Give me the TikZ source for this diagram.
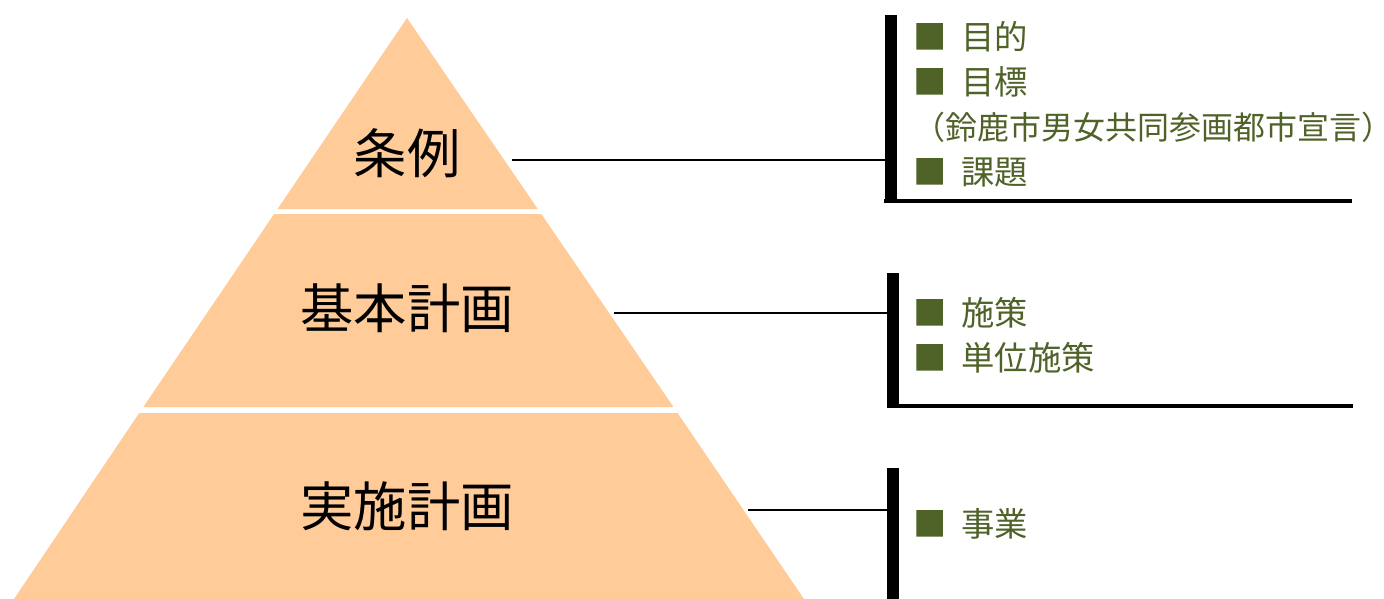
\documentclass[tikz,border=0pt]{standalone}
\usepackage{fontspec}
\newfontfamily\jp{Noto Sans CJK JP}
\definecolor{peach}{RGB}{255,204,153}
\definecolor{olive}{RGB}{79,98,40}
\begin{document}
\begin{tikzpicture}[x=0.75pt,y=-0.75pt,
  tier/.style={fill=peach,draw=none},
  lvl/.style={font=\jp\fontsize{40}{48}\selectfont,text=black,inner sep=0pt},
  item/.style={font=\jp\fontsize{25}{30}\selectfont,text=olive,anchor=west,inner sep=0pt},
  conn/.style={draw=black,line width=1.5pt},
  bar/.style={draw=black,line width=9pt},
  rulebar/.style={draw=black,line width=3pt}]
\useasboundingbox (0,0) rectangle (1384,599);
% pyramid tiers
\fill[tier] (407,18) -- (537.8,209) -- (277.5,209) -- cycle;
\fill[tier] (274.1,214) -- (541.3,214) -- (673.5,407) -- (143.3,407) -- cycle;
\fill[tier] (139.2,413) -- (677.6,413) -- (804,599) -- (14,599) -- cycle;
% labels
\node[lvl] (jorei) at (407,153) {条例};
\node[lvl] (kihon) at (407,308) {基本計画};
\node[lvl] (jisshi) at (407,506) {実施計画};
% brackets
\coordinate (b1t) at (890.5,15);
\coordinate (b1b) at (890.5,203);
\coordinate (r1a) at (884,200.5);
\coordinate (r1b) at (1352,200.5);
\draw[bar] (b1t) -- (b1b);
\draw[rulebar] (r1a) -- (r1b);
\coordinate (b2t) at (893,273);
\coordinate (b2b) at (893,408);
\coordinate (r2a) at (887,406);
\coordinate (r2b) at (1353,406);
\draw[bar] (b2t) -- (b2b);
\draw[rulebar] (r2a) -- (r2b);
\coordinate (b3t) at (893,468);
\coordinate (b3b) at (893,599);
\draw[bar] (b3t) -- (b3b);
% connectors
\coordinate (c1a) at (512,160);
\coordinate (c1b) at (885,160);
\draw[conn] (c1a) -- (c1b);
\coordinate (c2a) at (614,313);
\coordinate (c2b) at (888,313);
\draw[conn] (c2a) -- (c2b);
\coordinate (c3a) at (748,510);
\coordinate (c3b) at (888,510);
\draw[conn] (c3a) -- (c3b);
% items
\node[item] (i1) at (913,37) {■\hspace{0.45em}目的};
\node[item] (i2) at (913,82) {■\hspace{0.45em}目標};
\node[item,font=\jp\fontsize{24}{29}\selectfont] (i3) at (913,127) {（鈴鹿市男女共同参画都市宣言）};
\node[item] (i4) at (913,172) {■\hspace{0.45em}課題};
\node[item] (i5) at (913,313) {■\hspace{0.45em}施策};
\node[item] (i6) at (913,358) {■\hspace{0.45em}単位施策};
\node[item] (i7) at (913,524) {■\hspace{0.45em}事業};
\end{tikzpicture}
\end{document}
